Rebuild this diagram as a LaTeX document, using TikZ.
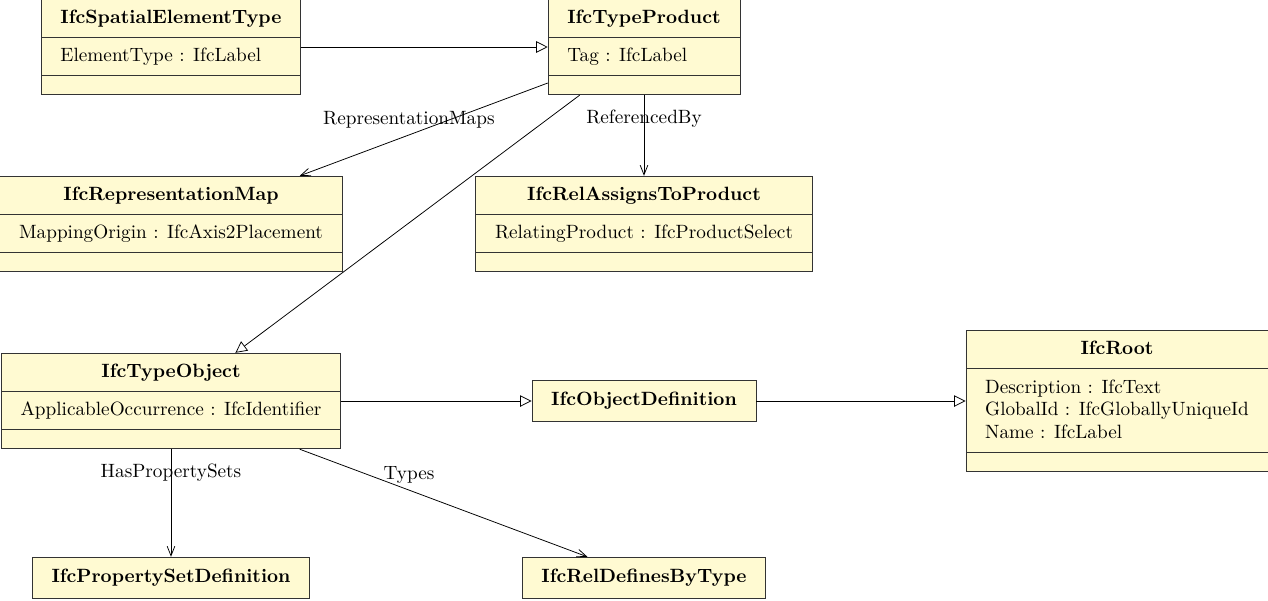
\documentclass[tikz,border=0pt]{standalone}
\usetikzlibrary{shapes.multipart,arrows.meta}
\definecolor{classfill}{RGB}{255,250,210}
\newcommand\umlstrut{\vrule width 0pt height 9.9pt depth 4.1pt}
\newcommand\attrlines[1]{\vbox{\baselineskip = 11.9pt \lineskiplimit = -20pt #1}}
\tikzset{
  umlclass/.style = {rectangle split, rectangle split parts = 3, rectangle split part align = {center,left,left}, draw = black!80, fill = classfill, inner xsep = 10pt, inner ysep = 2.7pt},
  simpleclass/.style = {draw = black!80, fill = classfill, inner xsep = 10pt, inner ysep = 6pt, font = \bfseries},
  generalization/.style = {-{Triangle[open, length = 6pt, width = 6pt]}},
  association/.style = {-{Straight Barb[length = 5pt, width = 4pt]}}
}
\begin{document}
\begin{tikzpicture}[x = 0.52pt, y = -0.52pt]
\useasboundingbox (0,0) rectangle (1268,600);
\pgfmathsetmacro\colstep{473}
\pgfmathsetmacro\rowstep{177}
\node[umlclass] (spatial) at (171,47) {\textbf{IfcSpatialElementType}\umlstrut \nodepart{two} ElementType : IfcLabel\umlstrut \nodepart{three}};
\node[umlclass] (typeproduct) at (171+\colstep,47) {\textbf{IfcTypeProduct}\umlstrut \nodepart{two} Tag : IfcLabel\umlstrut \nodepart{three}};
\node[umlclass] (repmap) at (171,47+\rowstep) {\textbf{IfcRepresentationMap}\umlstrut \nodepart{two} MappingOrigin : IfcAxis2Placement\umlstrut \nodepart{three}};
\node[umlclass] (relassigns) at (171+\colstep,47+\rowstep) {\textbf{IfcRelAssignsToProduct}\umlstrut \nodepart{two} RelatingProduct : IfcProductSelect\umlstrut \nodepart{three}};
\node[umlclass] (typeobject) at (171,47+\rowstep*2) {\textbf{IfcTypeObject}\umlstrut \nodepart{two} ApplicableOccurrence : IfcIdentifier\umlstrut \nodepart{three}};
\node[simpleclass] (objdef) at (171+\colstep,47+\rowstep*2) {IfcObjectDefinition\vrule width 0pt height 7.2pt depth 2.4pt};
\node[umlclass] (root) at (171+\colstep*2,47+\rowstep*2) {\textbf{IfcRoot}\umlstrut \nodepart{two} \attrlines{\hbox{Description : IfcText\umlstrut} \hbox{GlobalId : IfcGloballyUniqueId\umlstrut} \hbox{Name : IfcLabel\umlstrut}} \nodepart{three}};
\node[simpleclass] (psetdef) at (171,47+\rowstep*3) {IfcPropertySetDefinition\vrule width 0pt height 7.2pt depth 2.4pt};
\node[simpleclass] (reldefines) at (171+\colstep,47+\rowstep*3) {IfcRelDefinesByType\vrule width 0pt height 7.2pt depth 2.4pt};
\foreach \sub/\super in {spatial/typeproduct, typeproduct/typeobject, typeobject/objdef, objdef/root} \draw [generalization] (\sub) -- (\super);
\draw [association] (typeproduct) -- node[pos = 0.56, above] (repmapslabel) {RepresentationMaps} (repmap);
\draw [association] (typeproduct) -- node[pos = 0.29] (referencedlabel) {ReferencedBy} (relassigns);
\draw [association] (typeobject) -- node[pos = 0.22] (psetslabel) {HasPropertySets} (psetdef);
\draw [association] (typeobject) -- node[pos = 0.38, above] (typeslabel) {Types} (reldefines);
\end{tikzpicture}
\end{document}
